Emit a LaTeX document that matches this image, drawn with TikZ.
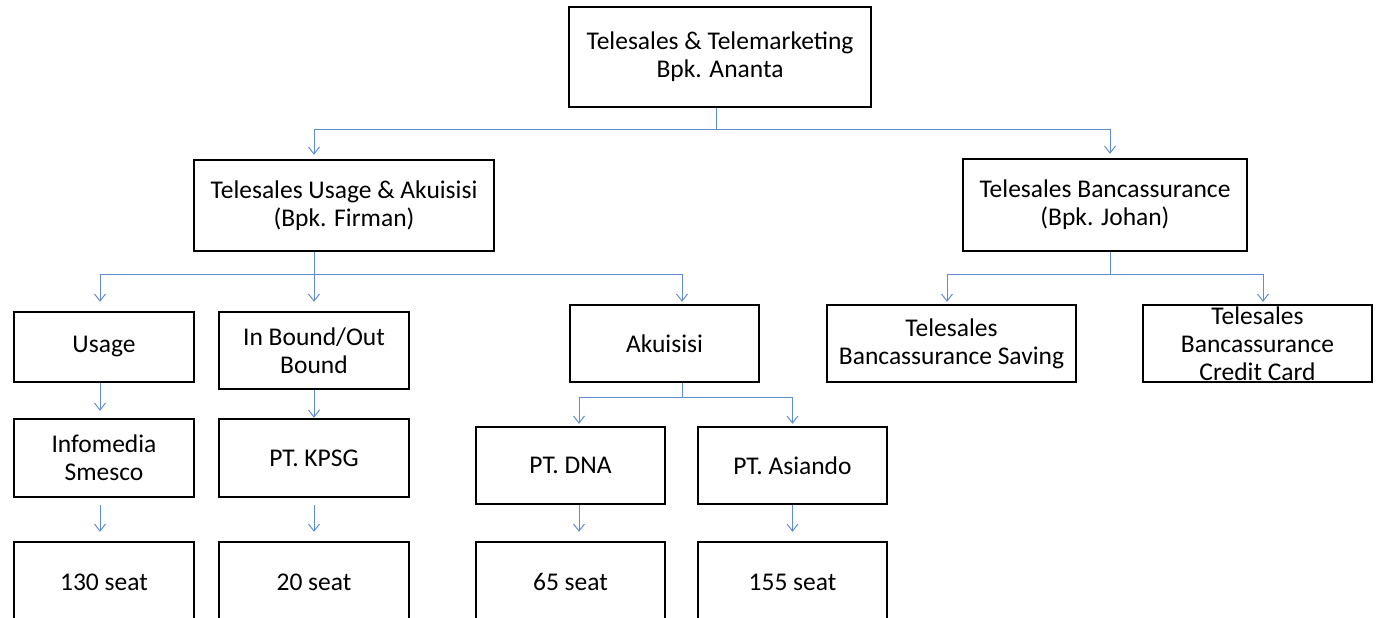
\documentclass[tikz,border=0pt]{standalone}
\usepackage{fontspec}
\setmainfont{Carlito}
\usepackage{tikz}
\usetikzlibrary{arrows.meta}
\definecolor{bluLinea}{RGB}{98,141,204}

\begin{document}
\begin{tikzpicture}[x=1pt, y=-1pt,
		riquadro/.style={draw, line width=2.4pt, inner sep=0pt, align=center, font=\fontsize{25.5}{28}\selectfont},
		linea/.style={draw=bluLinea, line width=1pt},
		freccia/.style={linea, -{Straight Barb[length=7pt, width=11pt]}}]
		\useasboundingbox (0,0) rectangle (1376,618);
		% Definizione dei nodi
		\node[riquadro, minimum width=302, minimum height=100] (Ananta) at (720,57) {Telesales \& Telemarketing\\Bpk. Ananta};
		\node[riquadro, minimum width=300, minimum height=91] (Firman) at (344,205.5) {Telesales Usage \& Akuisisi\\(Bpk. Firman)};
		\node[riquadro, minimum width=284, minimum height=92] (Johan) at (1105,205) {Telesales Bancassurance\\(Bpk. Johan)};
		
		\node[riquadro, minimum width=180, minimum height=70] (Usage) at (104,347) {Usage};
		\node[riquadro, minimum width=190, minimum height=77] (InOut) at (314,350.5) {In Bound/Out\\Bound};
		\node[riquadro, minimum width=189, minimum height=77] (Akuisisi) at (664.5,343.5) {Akuisisi};
		\node[riquadro, minimum width=249, minimum height=77] (Saving) at (951.5,343.5) {Telesales\\Bancassurance Saving};
		\node[riquadro, minimum width=229, minimum height=77, inner ysep=-3pt] (Credit) at (1257.5,343.5) {Telesales\\Bancassurance\\Credit Card};
		
		\node[riquadro, minimum width=180, minimum height=78] (Infomedia) at (104,458) {Infomedia\\Smesco};
		\node[riquadro, minimum width=190, minimum height=78] (KPSG) at (314,458) {PT. KPSG};
		\node[riquadro, minimum width=189, minimum height=77] (DNA) at (570.5,465.5) {PT. DNA};
		\node[riquadro, minimum width=189, minimum height=77] (Asiando) at (792.5,465.5) {PT. Asiando};
		
		\node[riquadro, minimum width=180, minimum height=80] (Seat130) at (104,582) {130 seat};
		\node[riquadro, minimum width=190, minimum height=80] (Seat20) at (314,582) {20 seat};
		\node[riquadro, minimum width=189, minimum height=80] (Seat65) at (570.5,582) {65 seat};
		\node[riquadro, minimum width=189, minimum height=80] (Seat155) at (792.5,582) {155 seat};
		
		% Punti di diramazione
		\coordinate (Bus0) at (716,129);
		\coordinate (Bus1) at (314,274);
		\coordinate (Bus2) at (1110,274);
		\coordinate (Bus3) at (682,397);
		
		% Collegamenti
		\draw[linea] (Ananta.south -| Bus0) -- (Bus0);
		\draw[freccia, shorten >=4pt] (Bus0) -| (Firman.north -| Bus1);
		\draw[freccia, shorten >=4pt] (Bus0) -| (Johan.north -| Bus2);
		
		\draw[linea] (Firman.south -| Bus1) -- (Bus1);
		\draw[freccia, shorten >=9pt] (Bus1) -| (Usage.north -| 100,0);
		\draw[freccia, shorten >=9pt] (Bus1) -- (InOut.north);
		\draw[freccia, shorten >=2pt] (Bus1) -| (Akuisisi.north -| Bus3);
		
		\draw[linea] (Johan.south -| Bus2) -- (Bus2);
		\draw[freccia, shorten >=2pt] (Bus2) -| (Saving.north -| 947,0);
		\draw[freccia, shorten >=2pt] (Bus2) -| (Credit.north -| 1263,0);
		
		\draw[linea] (Akuisisi.south -| Bus3) -- (Bus3);
		\draw[freccia, shorten >=2pt] (Bus3) -| (DNA.north -| 579,0);
		\draw[freccia, shorten >=2pt] (Bus3) -| (Asiando.north);
		
		\draw[freccia, shorten >=7pt] (Usage.south -| 100,0) -- (Infomedia.north -| 100,0);
		\draw[freccia] (InOut.south) -- (KPSG.north);
		\draw[freccia, shorten <=7pt, shorten >=9pt] (Infomedia.south -| 100,0) -- (Seat130.north -| 100,0);
		\draw[freccia, shorten <=7pt, shorten >=9pt] (KPSG.south) -- (Seat20.north);
		\draw[freccia, shorten >=9pt] (DNA.south -| 579,0) -- (Seat65.north -| 579,0);
		\draw[freccia, shorten >=9pt] (Asiando.south) -- (Seat155.north);
	\end{tikzpicture}
\end{document}
